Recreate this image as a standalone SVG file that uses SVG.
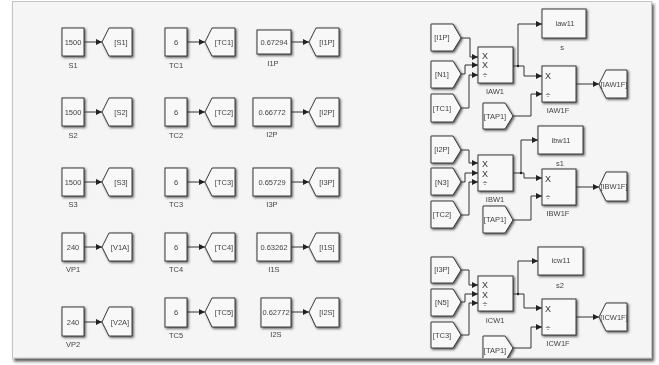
<svg xmlns="http://www.w3.org/2000/svg" width="659" height="365" viewBox="0 0 659 365">
<style>
text{font-family:"Liberation Sans",Arial,sans-serif;font-size:7.5px;fill:#444;text-anchor:middle}
.b{fill:#f8f8f8;stroke:#3a3a3a;stroke-width:1;filter:url(#sh)}
.w{fill:none;stroke:#333;stroke-width:1;marker-end:url(#ah)}
.x{font-size:9px;fill:#333}
</style>
<defs>
<filter id="sh" x="-20%" y="-20%" width="150%" height="150%"><feDropShadow dx="1.3" dy="1.3" stdDeviation="0.8" flood-color="#333" flood-opacity="0.8"/></filter>
<filter id="soft" filterUnits="userSpaceOnUse" x="0" y="0" width="659" height="365"><feGaussianBlur stdDeviation="0.45"/></filter>
<filter id="pan" x="-2%" y="-2%" width="104%" height="104%"><feDropShadow dx="2" dy="3" stdDeviation="1.6" flood-color="#222" flood-opacity="0.75"/></filter>
<marker id="ah" markerUnits="userSpaceOnUse" markerWidth="7" markerHeight="7" refX="6" refY="3" orient="auto"><path d="M0 0L6 3L0 6Z" fill="#222"/></marker>
<clipPath id="pc"><rect x="12.5" y="1.5" width="639" height="356.5"/></clipPath>
</defs>
<rect width="659" height="365" fill="#fff"/>
<rect id="panel" x="12.5" y="1.5" width="639" height="356.5" fill="#f5f5f5" stroke="#c4c4c4" filter="url(#pan)"/>
<g filter="url(#soft)" clip-path="url(#pc)">
<g id="connectors">
<path class="w" d="M84 42H102"/><path class="w" d="M84 112H102"/><path class="w" d="M84 182H102"/><path class="w" d="M84 247H102"/><path class="w" d="M84 322H102"/>
<path class="w" d="M187 42H205"/><path class="w" d="M187 112H205"/><path class="w" d="M187 182H205"/><path class="w" d="M187 247H205"/><path class="w" d="M187 312H205"/>
<path class="w" d="M291 42H309"/><path class="w" d="M291 112H309"/><path class="w" d="M291 182H309"/><path class="w" d="M291 247H309"/><path class="w" d="M291 312H309"/>
<path class="w" d="M461 38H470V57H478"/><path class="w" d="M461 74H465V65H478"/><path class="w" d="M461 108H469V75H478"/>
<path class="w" d="M513 66H518V24H542"/><path class="w" d="M518 66H524V76H542"/><path class="w" d="M513 116H531V94H542"/><path class="w" d="M576 84H599"/>
<circle cx="518" cy="66" r="1.2" fill="#222"/>
<path class="w" d="M461 150H469V163H478"/><path class="w" d="M461 182H465V173H478"/><path class="w" d="M461 215H469V182H478"/>
<path class="w" d="M513 173H521V140H538"/><path class="w" d="M521 173H524V178H542"/><path class="w" d="M513 220H531V196H542"/><path class="w" d="M576 187H599"/>
<circle cx="521" cy="173" r="1.2" fill="#222"/>
<path class="w" d="M461 270H469V285H478"/><path class="w" d="M461 302H465V294H478"/><path class="w" d="M461 335H469V303H478"/>
<path class="w" d="M513 294H518V261H538"/><path class="w" d="M518 294H524V308H542"/><path class="w" d="M513 348H531V327H542"/><path class="w" d="M576 317H599"/>
<circle cx="518" cy="294" r="1.2" fill="#222"/>
</g>
<g id="S1"><rect class="b" x="62" y="28" width="22" height="28"/><text x="73" y="45">1500</text><text x="73" y="68">S1</text></g>
<g id="S2"><rect class="b" x="62" y="98" width="22" height="28"/><text x="73" y="115">1500</text><text x="73" y="138">S2</text></g>
<g id="S3"><rect class="b" x="62" y="168" width="22" height="28"/><text x="73" y="185">1500</text><text x="73" y="207">S3</text></g>
<g id="VP1"><rect class="b" x="62" y="233" width="22" height="28"/><text x="73" y="250">240</text><text x="73" y="272">VP1</text></g>
<g id="VP2"><rect class="b" x="62" y="307" width="22" height="29"/><text x="73" y="325">240</text><text x="73" y="347">VP2</text></g>
<g id="gS1"><polygon class="b" points="102,42 109,28 132,28 132,56 109,56"/><text x="121" y="45">[S1]</text></g>
<g id="gS2"><polygon class="b" points="102,112 109,98 132,98 132,126 109,126"/><text x="121" y="115">[S2]</text></g>
<g id="gS3"><polygon class="b" points="102,182 109,168 132,168 132,196 109,196"/><text x="121" y="185">[S3]</text></g>
<g id="gV1A"><polygon class="b" points="102,247 109,233 132,233 132,261 109,261"/><text x="120" y="250">[V1A]</text></g>
<g id="gV2A"><polygon class="b" points="102,322 109,307 132,307 132,336 109,336"/><text x="120" y="325">[V2A]</text></g>
<g id="TC1"><rect class="b" x="165" y="28" width="22" height="28"/><text x="176" y="45">6</text><text x="176" y="68">TC1</text></g>
<g id="TC2"><rect class="b" x="165" y="98" width="22" height="28"/><text x="176" y="115">6</text><text x="176" y="138">TC2</text></g>
<g id="TC3"><rect class="b" x="165" y="168" width="22" height="28"/><text x="176" y="185">6</text><text x="176" y="207">TC3</text></g>
<g id="TC4"><rect class="b" x="165" y="233" width="22" height="28"/><text x="176" y="250">6</text><text x="176" y="272">TC4</text></g>
<g id="TC5"><rect class="b" x="165" y="298" width="22" height="29"/><text x="176" y="315">6</text><text x="176" y="338">TC5</text></g>
<g id="gTC1"><polygon class="b" points="205,42 212,28 235,28 235,56 212,56"/><text x="224" y="45">[TC1]</text></g>
<g id="gTC2"><polygon class="b" points="205,112 212,98 235,98 235,126 212,126"/><text x="224" y="115">[TC2]</text></g>
<g id="gTC3"><polygon class="b" points="205,182 212,168 235,168 235,196 212,196"/><text x="224" y="185">[TC3]</text></g>
<g id="gTC4"><polygon class="b" points="205,247 212,233 235,233 235,261 212,261"/><text x="224" y="250">[TC4]</text></g>
<g id="gTC5"><polygon class="b" points="205,312 212,298 235,298 235,327 212,327"/><text x="224" y="315">[TC5]</text></g>
<g id="I1P"><rect class="b" x="257" y="30" width="34" height="24"/><text x="274" y="45">0.67294</text><text x="273" y="66">I1P</text></g>
<g id="I2P"><rect class="b" x="253" y="98" width="38" height="28"/><text x="272" y="115">0.66772</text><text x="272" y="137">I2P</text></g>
<g id="I3P"><rect class="b" x="253" y="168" width="38" height="28"/><text x="272" y="185">0.65729</text><text x="272" y="207">I3P</text></g>
<g id="I1S"><rect class="b" x="257" y="233" width="34" height="28"/><text x="274" y="250">0.63262</text><text x="274" y="272">I1S</text></g>
<g id="I2S"><rect class="b" x="261" y="298" width="30" height="29"/><text x="276" y="315">0.62772</text><text x="276" y="337">I2S</text></g>
<g id="gI1P"><polygon class="b" points="309,42 316,28 339,28 339,56 316,56"/><text x="327" y="45">[I1P]</text></g>
<g id="gI2P"><polygon class="b" points="309,112 316,98 339,98 339,126 316,126"/><text x="327" y="115">[I2P]</text></g>
<g id="gI3P"><polygon class="b" points="309,182 316,168 339,168 339,196 316,196"/><text x="327" y="185">[I3P]</text></g>
<g id="gI1S"><polygon class="b" points="309,247 316,233 339,233 339,261 316,261"/><text x="327" y="250">[I1S]</text></g>
<g id="gI2S"><polygon class="b" points="309,312 316,298 339,298 339,327 316,327"/><text x="327" y="315">[I2S]</text></g>
<g id="f1"><polygon class="b" points="431,24 453,24 461,38 453,51 431,51"/><text x="442" y="40">[I1P]</text></g>
<g id="f2"><polygon class="b" points="431,61 453,61 461,74 453,88 431,88"/><text x="442" y="77">[N1]</text></g>
<g id="f3"><polygon class="b" points="431,94 453,94 461,108 453,122 431,122"/><text x="442" y="111">[TC1]</text></g>
<g id="f4"><polygon class="b" points="483,103 505,103 513,116 505,129 483,129"/><text x="495" y="119">[TAP1]</text></g>
<g id="IAW1"><rect class="b" x="478" y="47" width="35" height="36"/><text class="x" x="485" y="59">X</text><text class="x" x="485" y="68">X</text><text class="x" x="485" y="78">÷</text><text x="495" y="94">IAW1</text></g>
<g id="iaw11"><rect class="b" x="542" y="9" width="44" height="29"/><text x="565" y="26">iaw11</text><text x="562" y="50">s</text></g>
<g id="IAW1F"><rect class="b" x="542" y="66" width="34" height="36"/><text class="x" x="548" y="79">X</text><text class="x" x="548" y="98">÷</text><text x="558" y="113">IAW1F</text></g>
<g id="gIAW1F"><polygon class="b" points="599,84 606,70 627,70 627,98 606,98"/><text x="614" y="87">[IAW1F]</text></g>
<g id="f5"><polygon class="b" points="431,136 453,136 461,150 453,163 431,163"/><text x="442" y="152">[I2P]</text></g>
<g id="f6"><polygon class="b" points="431,168 453,168 461,182 453,195 431,195"/><text x="442" y="185">[N3]</text></g>
<g id="f7"><polygon class="b" points="431,201 453,201 461,215 453,228 431,228"/><text x="442" y="217">[TC2]</text></g>
<g id="f8"><polygon class="b" points="483,206 505,206 513,220 505,233 483,233"/><text x="495" y="222">[TAP1]</text></g>
<g id="IBW1"><rect class="b" x="478" y="155" width="35" height="36"/><text class="x" x="485" y="167">X</text><text class="x" x="485" y="177">X</text><text class="x" x="485" y="186">÷</text><text x="495" y="202">IBW1</text></g>
<g id="ibw11"><rect class="b" x="538" y="126" width="45" height="28"/><text x="561" y="143">ibw11</text><text x="560" y="166">s1</text></g>
<g id="IBW1F"><rect class="b" x="542" y="169" width="34" height="36"/><text class="x" x="548" y="182">X</text><text class="x" x="548" y="200">÷</text><text x="558" y="216">IBW1F</text></g>
<g id="gIBW1F"><polygon class="b" points="599,187 606,172 627,172 627,201 606,201"/><text x="614" y="189">[IBW1F]</text></g>
<g id="f9"><polygon class="b" points="431,257 453,257 461,270 453,283 431,283"/><text x="442" y="272">[I3P]</text></g>
<g id="f10"><polygon class="b" points="431,289 453,289 461,302 453,316 431,316"/><text x="442" y="305">[N5]</text></g>
<g id="f11"><polygon class="b" points="431,322 453,322 461,335 453,348 431,348"/><text x="442" y="338">[TC3]</text></g>
<g id="f12"><polygon class="b" points="483,336 505,336 513,348 505,362 483,362"/><text x="495" y="353">[TAP1]</text></g>
<g id="ICW1"><rect class="b" x="478" y="276" width="35" height="35"/><text class="x" x="485" y="288">X</text><text class="x" x="485" y="298">X</text><text class="x" x="485" y="307">÷</text><text x="495" y="323">ICW1</text></g>
<g id="icw11"><rect class="b" x="538" y="247" width="45" height="28"/><text x="561" y="263">icw11</text><text x="560" y="288">s2</text></g>
<g id="ICW1F"><rect class="b" x="542" y="299" width="34" height="36"/><text class="x" x="548" y="312">X</text><text class="x" x="548" y="331">÷</text><text x="558" y="346">ICW1F</text></g>
<g id="gICW1F"><polygon class="b" points="599,317 606,303 627,303 627,331 606,331"/><text x="614" y="320">[ICW1F]</text></g>
</g>
</svg>
